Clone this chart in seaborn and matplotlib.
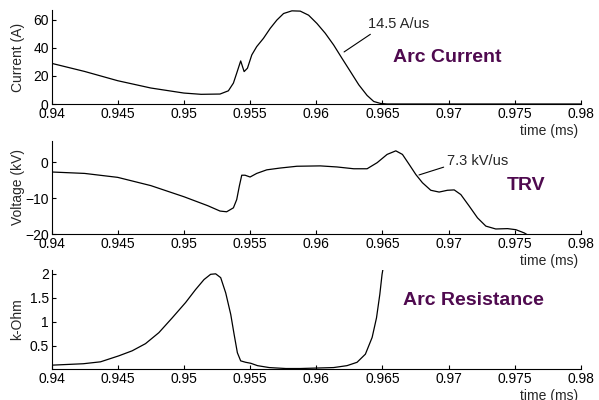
import matplotlib
matplotlib.use("Agg")
import matplotlib.pyplot as plt
import seaborn as sns
import pandas as pd

# ---- data ----
cur_t = [0.9400, 0.9425, 0.9450, 0.9475, 0.9500, 0.9513, 0.95273, 0.95336, 0.95374,
         0.95399, 0.95429, 0.95455, 0.9548, 0.95513, 0.9555, 0.95601, 0.95652,
         0.95702, 0.95753, 0.95816, 0.95879, 0.95942, 0.96005, 0.96068, 0.96131,
         0.96194, 0.96258, 0.96321, 0.96384, 0.96434, 0.96485, 0.96535, 0.9800]
cur_i = [29.0, 23.2, 16.6, 11.4, 7.8, 6.9, 7.1, 9.4, 14.9,
         22.0, 30.7, 23.1, 25.5, 35.0, 40.9, 46.8, 53.9,
         59.8, 64.5, 66.4, 66.2, 63.3, 57.4, 50.4, 42.1,
         32.6, 23.1, 13.7, 6.1, 1.8, 0.4, 0.0, 0.0]

trv_t = [0.9400, 0.9425, 0.9450, 0.9475, 0.9500, 0.9518, 0.95273, 0.95323, 0.95374,
         0.95399, 0.95419, 0.95437, 0.95462, 0.9550, 0.9555, 0.95626, 0.95727,
         0.95854, 0.9603, 0.96157, 0.96283, 0.96384, 0.9646, 0.96535, 0.96601,
         0.96651, 0.96702, 0.96752, 0.96802, 0.96865, 0.96928, 0.96991, 0.97042,
         0.97092, 0.97155, 0.97218, 0.97281, 0.97356, 0.97445, 0.97508, 0.97571,
         0.97634]
trv_v = [-2.7, -3.1, -4.2, -6.5, -9.6, -12.1, -13.6, -13.8, -12.7,
         -10.4, -6.6, -3.6, -3.6, -4.1, -3.1, -2.1, -1.6,
         -1.1, -1.0, -1.3, -1.8, -1.8, -0.1, 2.2, 3.2,
         2.2, -0.6, -3.4, -5.7, -7.8, -8.3, -7.8, -7.7,
         -9.0, -12.2, -15.5, -17.8, -18.6, -18.5, -18.8, -19.7,
         -21.1]

res_t = [0.9400, 0.9424, 0.9437, 0.94508, 0.94609, 0.9471, 0.94811, 0.94912, 0.95013,
         0.95088, 0.95152, 0.95202, 0.9524, 0.95278, 0.95316, 0.95354, 0.95379,
         0.95404, 0.95429, 0.95467, 0.95505, 0.95556, 0.95644, 0.9577, 0.95879,
         0.96131, 0.96232, 0.96308, 0.96371, 0.96422, 0.96455, 0.9648, 0.96497, 0.9651]
res_r = [0.09, 0.12, 0.16, 0.285, 0.39, 0.54, 0.77, 1.08, 1.40,
         1.67, 1.88, 1.99, 2.00, 1.92, 1.60, 1.15, 0.74,
         0.35, 0.18, 0.15, 0.13, 0.08, 0.04, 0.02, 0.02,
         0.04, 0.08, 0.15, 0.32, 0.67, 1.08, 1.57, 1.99, 2.2]

x_ticks = [0.94, 0.945, 0.95, 0.955, 0.96, 0.965, 0.97, 0.975, 0.98]
x_ticklabels = ["0.94", "0.945", "0.95", "0.955", "0.96", "0.965", "0.97", "0.975", "0.98"]
cur_yticks = [0, 20, 40, 60]
trv_yticks = [-20, -10, 0]
res_yticks = [0.5, 1, 1.5, 2]
res_yticklabels = ["0.5", "1", "1.5", "2"]

ylabels = ["Current (A)", "Voltage (kV)", "k-Ohm"]
titles = ["Arc Current", "TRV", "Arc Resistance"]
xlabel = "time (ms)"

# ---- style ----
sns.set_style("ticks")
plt.rcParams["font.family"] = ["Liberation Sans", "DejaVu Sans"]
plt.rcParams["font.size"] = 10
purple = "#4f0a4f"

fig = plt.figure(figsize=(5.99, 4.0), dpi=100)
left, width = 0.086, 0.884
axes = [
    fig.add_axes([left, 0.740, width, 0.235]),
    fig.add_axes([left, 0.415, width, 0.233]),
    fig.add_axes([left, 0.0775, width, 0.2475]),
]

df_c = pd.DataFrame({"t": cur_t, "v": cur_i})
df_v = pd.DataFrame({"t": trv_t, "v": trv_v})
df_r = pd.DataFrame({"t": res_t, "v": res_r})

for ax, df in zip(axes, [df_c, df_v, df_r]):
    sns.lineplot(data=df, x="t", y="v", ax=ax, color="black", linewidth=0.9,
                 sort=False, estimator=None)
    ax.set_xlim(0.94, 0.98)
    ax.set_xticks(x_ticks)
    ax.set_xticklabels(x_ticklabels)
    sns.despine(ax=ax)
    for s in ["left", "bottom"]:
        ax.spines[s].set_linewidth(0.8)
        ax.spines[s].set_color("black")
    ax.tick_params(direction="in", length=3, width=0.8, labelsize=10,
                   colors="black", pad=2)
    ax.set_xlabel("")
    ax.annotate(xlabel, xy=(1, 0), xycoords="axes fraction", xytext=(-3, -31),
                textcoords="offset pixels", ha="right", va="baseline", fontsize=10)
    ax.patch.set_alpha(0)

axes[0].set_ylim(0, 67)
axes[0].set_yticks(cur_yticks)
axes[1].set_ylim(-20, 6)
axes[1].set_yticks(trv_yticks)
axes[2].set_ylim(0.01, 2.08)
axes[2].set_yticks(res_yticks)
axes[2].set_yticklabels(res_yticklabels)

for ax, lab in zip(axes, ylabels):
    ax.set_ylabel(lab, fontsize=10)
    ax.yaxis.set_label_coords(-0.051, 0.5)

# annotations
axes[0].annotate("14.5 A/us", xy=(0.9621, 37.1), xytext=(0.9639, 57),
                 ha="left", va="center", fontsize=10.5,
                 arrowprops=dict(arrowstyle="-", color="black", lw=0.8,
                                 shrinkA=0, shrinkB=0, relpos=(0.12, 0.0)))
axes[1].annotate("7.3 kV/us", xy=(0.96776, -3.53), xytext=(0.96987, 0.5),
                 ha="left", va="center", fontsize=10.5,
                 arrowprops=dict(arrowstyle="-", color="black", lw=0.8,
                                 shrinkA=0, shrinkB=0, relpos=(0.0, 0.1)))

axes[0].text(0.96578, 32.9, titles[0], color=purple, fontsize=14,
             fontweight="bold", ha="left", va="center")
axes[1].text(0.97440, -6.5, titles[1], color=purple, fontsize=14,
             fontweight="bold", ha="left", va="center")
axes[2].text(0.96654, 1.44, titles[2], color=purple, fontsize=14,
             fontweight="bold", ha="left", va="center")

fig.savefig("out.png", dpi=100)
